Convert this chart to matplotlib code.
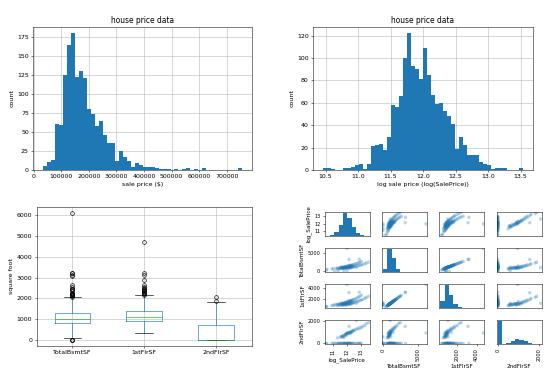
import numpy as np
import matplotlib
matplotlib.use("Agg")
import matplotlib.pyplot as plt

# ---- histogram of sale price (50 bins between min and max price) ----
price_min, price_max = 34900, 755000
price_counts = [5, 11, 13, 61, 59, 125, 165, 180, 122, 131,
                121, 80, 74, 58, 64, 46, 36, 36, 12, 25,
                17, 12, 4, 9, 7, 4, 4, 4, 3, 1,
                1, 1, 0, 1, 0, 1, 2, 0, 1, 0,
                2, 0, 0, 0, 0, 0, 0, 0, 0, 2]

# ---- histogram of log sale price ----
log_counts = [2, 2, 1, 0, 0, 2, 2, 3, 4, 5,
              1, 5, 21, 22, 23, 18, 29, 58, 56, 66,
              100, 122, 93, 90, 81, 109, 85, 67, 59, 60,
              53, 48, 41, 19, 29, 22, 13, 13, 13, 7,
              5, 4, 1, 2, 2, 2, 0, 0, 0, 2]

# ---- box plot stats (square foot) ----
box_labels = ["TotalBsmtSF", "1stFlrSF", "2ndFlrSF"]
box_q1 = [796, 882, 0]
box_med = [992, 1087, 0]
box_q3 = [1298, 1391, 728]
box_lo = [105, 334, 0]
box_hi = [2046, 2136, 1818]
box_fliers = [
    [0, 0, 0, 2078, 2110, 2136, 2153, 2200, 2217, 2223, 2271, 2330, 2392,
     2444, 2461, 2524, 2633, 3094, 3138, 3200, 3206, 6110],
    [2156, 2207, 2234, 2259, 2290, 2364, 2402, 2411, 2444, 2515, 2524,
     2633, 2898, 3138, 3228, 4692],
    [1872, 2065],
]

# ---- scatter matrix ----
sm_cols = ["log_SalePrice", "TotalBsmtSF", "1stFlrSF", "2ndFlrSF"]
log_saleprice = [10.50, 10.55, 10.90, 11.00, 11.10, 11.20, 11.30, 11.35, 11.45, 11.50,
                 11.55, 11.60, 11.65, 11.70, 11.75, 11.80, 11.85, 11.90, 11.95, 12.00,
                 12.05, 12.10, 12.15, 12.20, 12.25, 12.30, 12.35, 12.40, 12.50, 12.60,
                 12.70, 12.80, 12.90, 13.00, 12.85,
                 11.30, 11.50, 11.60, 11.70, 11.75, 11.80, 11.85, 11.90, 11.95, 12.00,
                 12.05, 12.10, 12.15, 12.20, 12.25, 12.30, 12.35, 12.40, 12.45, 12.50,
                 12.60, 12.70, 12.80, 12.90, 13.00, 13.10, 13.25, 13.35, 13.53, 12.65,
                 12.13, 11.98,
                 11.65, 11.78, 11.88, 11.92, 12.02, 12.08, 12.18, 11.72, 11.83, 12.28,
                 11.40, 11.58, 12.12, 11.98, 12.22]
total_bsmt = [290, 520, 600, 700, 0, 780, 860, 0, 900, 1000,
              820, 1050, 950, 1120, 1000, 1200, 1080, 1300, 1150, 1350,
              1250, 1450, 1350, 1550, 1500, 1650, 1600, 1750, 1850, 1950,
              2100, 2250, 2400, 2600, 3200,
              600, 700, 750, 800, 0, 850, 900, 700, 950, 800,
              1000, 850, 1050, 900, 1100, 1000, 1150, 1200, 1100, 1300,
              1400, 1350, 1500, 1600, 1700, 1800, 2000, 2200, 2444, 1000,
              3138, 6110,
              880, 980, 1060, 860, 1180, 940, 1280, 760, 1150, 1420,
              700, 1100, 1600, 0, 1000]
first_flr = [480, 520, 680, 730, 800, 860, 900, 960, 930, 1020,
             880, 1080, 1000, 1150, 1040, 1230, 1120, 1330, 1180, 1380,
             1300, 1480, 1400, 1580, 1520, 1680, 1650, 1780, 1870, 1990,
             2120, 2300, 2450, 2650, 3228,
             620, 720, 760, 820, 900, 860, 920, 740, 960, 850,
             1000, 900, 1060, 950, 1110, 1020, 1160, 1220, 1150, 1320,
             1420, 1380, 1530, 1650, 1720, 1820, 2030, 2230, 2444, 1100,
             3138, 4692,
             900, 1000, 1090, 880, 1200, 960, 1300, 800, 1180, 1450,
             760, 1120, 1640, 1250, 1040]
second_flr = [0, 0, 0, 0, 0, 0, 0, 0, 0, 0,
              0, 0, 0, 0, 0, 0, 0, 0, 0, 0,
              0, 0, 0, 0, 0, 0, 0, 0, 0, 0,
              0, 0, 0, 0, 0,
              500, 560, 650, 700, 600, 750, 800, 880, 850, 950,
              900, 1000, 950, 1050, 1000, 1100, 1050, 1150, 1200, 1150,
              1250, 1350, 1300, 1450, 1400, 1550, 1600, 1800, 1872, 2065,
              1538, 950,
              620, 0, 780, 700, 0, 860, 0, 540, 0, 980,
              0, 600, 0, 0, 900]

# diagonal histograms (10 bins each)
diag_counts = [
    [5, 16, 72, 227, 486, 380, 190, 68, 14, 4],
    [100, 780, 470, 90, 8, 4, 0, 0, 0, 1],
    [200, 700, 380, 130, 35, 10, 4, 0, 0, 1],
    [830, 10, 30, 110, 170, 150, 100, 40, 15, 5],
]
diag_range = [(10.46, 13.53), (0, 6110), (334, 4692), (0, 2065)]
sm_ticks = [[11, 12, 13], [0, 5000], [2000, 4000], [0, 2000]]

W, H, DPI = 554, 375, 45
fig = plt.figure(figsize=(W / DPI, H / DPI), dpi=DPI)

# top left
ax1 = fig.add_axes([0.060, 0.547, 0.395, 0.382])
edges = np.linspace(price_min, price_max, len(price_counts) + 1)
ax1.hist(edges[:-1], bins=edges, weights=price_counts, color="C0")
ax1.grid(True)
ax1.set_axisbelow(True)
ax1.set_title("house price data")
ax1.set_xlabel("sale price ($)")
ax1.set_ylabel("count")

# top right
ax2 = fig.add_axes([0.565, 0.547, 0.397, 0.382])
log_edges = np.linspace(np.log(price_min), np.log(price_max), len(log_counts) + 1)
ax2.hist(log_edges[:-1], bins=log_edges, weights=log_counts, color="C0")
ax2.grid(True)
ax2.set_axisbelow(True)
ax2.set_title("house price data")
ax2.set_xlabel("log sale price (log(SalePrice))")
ax2.set_ylabel("count")

# bottom left: box plot
ax3 = fig.add_axes([0.066, 0.077, 0.389, 0.372])
stats = []
for i, lab in enumerate(box_labels):
    stats.append(dict(label=lab, q1=box_q1[i], med=box_med[i], q3=box_q3[i],
                      whislo=box_lo[i], whishi=box_hi[i], fliers=box_fliers[i]))
ax3.bxp(stats, widths=0.5,
        boxprops=dict(color="C0"), whiskerprops=dict(color="C0"),
        medianprops=dict(color="C2"), capprops=dict(color="k"),
        flierprops=dict(marker="o", markerfacecolor="none", markeredgecolor="k"))
ax3.grid(True)
ax3.set_ylabel("square foot")

# bottom right: scatter matrix
data = [log_saleprice, total_bsmt, first_flr, second_flr]
bounds = []
for lo, hi in diag_range:
    pad = (hi - lo) * 0.05 / 2
    bounds.append((lo - pad, hi + pad))

gs = fig.add_gridspec(4, 4, left=0.586, right=0.978, top=0.4355, bottom=0.0827,
                      wspace=0.27, hspace=0.5)
n = 4
axes = [[fig.add_subplot(gs[i, j]) for j in range(n)] for i in range(n)]
for i in range(n):
    for j in range(n):
        ax = axes[i][j]
        if i == j:
            e = np.linspace(diag_range[i][0], diag_range[i][1], 11)
            ax.hist(e[:-1], bins=e, weights=diag_counts[i], color="C0")
            ax.set_xlim(bounds[i])
        else:
            ax.scatter(data[j], data[i], marker="o", s=30, alpha=0.3,
                       color="C0", edgecolors="none")
            ax.set_xlim(bounds[j])
            ax.set_ylim(bounds[i])
            ax.set_yticks(sm_ticks[i])
        ax.set_xticks(sm_ticks[j])
        ax.set_xlabel(sm_cols[j], fontsize=9)
        ax.set_ylabel(sm_cols[i], fontsize=9)
        ax.tick_params(labelsize=8)
        for lab in ax.get_xticklabels():
            lab.set_rotation(90)
        if j != 0:
            ax.yaxis.set_visible(False)
        if i != n - 1:
            ax.xaxis.set_visible(False)

# first diagonal: map the log price ticks onto the count axis
lim1 = bounds[0]
locs = np.array(sm_ticks[0], dtype=float)
adj = (locs - lim1[0]) / (lim1[1] - lim1[0])
lim0 = axes[0][0].get_ylim()
adj = adj * (lim0[1] - lim0[0]) + lim0[0]
axes[0][0].set_yticks(adj)
axes[0][0].set_yticklabels([str(v) for v in sm_ticks[0]])

fig.savefig("out.png", dpi=DPI)
